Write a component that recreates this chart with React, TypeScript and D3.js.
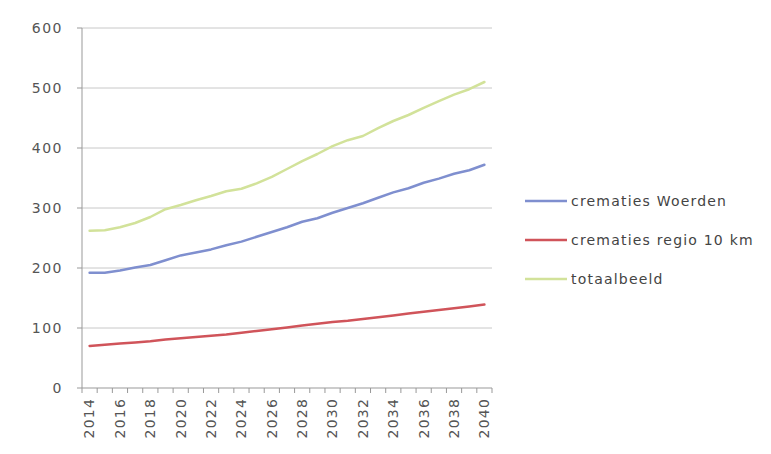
import React from "react";
import * as d3 from "d3";

const years: string[] = d3.range(2014, 2041).map(String);
const crematiesWoerden: number[] = [192, 192, 196, 201, 205, 213, 221, 226, 231, 238, 244, 252, 260, 268, 277, 283, 292, 300, 308, 317, 326, 333, 342, 349, 357, 363, 372];
const crematiesRegio: number[] = [70, 72, 74, 76, 78, 81, 83, 85, 87, 89, 92, 95, 98, 101, 104, 107, 110, 112, 115, 118, 121, 124, 127, 130, 133, 136, 139];
const totaalbeeld: number[] = [262, 263, 268, 275, 285, 298, 305, 313, 320, 328, 332, 341, 352, 365, 378, 390, 403, 413, 420, 433, 445, 455, 467, 478, 489, 498, 510];
const yTicks: number[] = [0, 100, 200, 300, 400, 500, 600];
const seriesNames: string[] = ["crematies Woerden", "crematies regio 10 km", "totaalbeeld"];
const seriesColors: string[] = ["#7f8fcf", "#d0545a", "#d2e29a"];

export default function App() {
  const W = 771, H = 454;
  const left = 82, right = 492, top = 28, bottom = 388;
  const x = d3.scaleBand<string>().domain(years).range([left, right]);
  const y = d3.scaleLinear().domain([0, 600]).range([bottom, top]);
  const line = d3.line<number>()
    .x((_, i) => (x(years[i]) as number) + x.bandwidth() / 2)
    .y((d) => y(d));
  const series = [crematiesWoerden, crematiesRegio, totaalbeeld];
  const font = "'DejaVu Sans', sans-serif";
  const boundaries = years.map((yr) => x(yr) as number).concat([right]);

  return (
    <svg width={W} height={H} style={{ position: "absolute", left: 0, top: 0, background: "#fff" }}>
      <rect width={W} height={H} fill="#fff" />
      {yTicks.filter((t) => t > 0).map((t) => (
        <line key={"g" + t} x1={left} x2={right} y1={y(t)} y2={y(t)} stroke="#c8c8c8" strokeWidth={1} />
      ))}
      {yTicks.map((t) => (
        <g key={"y" + t}>
          <line x1={left - 5} x2={left} y1={y(t)} y2={y(t)} stroke="#999" />
          <text x={63} y={y(t)} dy="0.35em" textAnchor="end" fontSize={14} letterSpacing={1.5} fill="#555" fontFamily={font}>{t}</text>
        </g>
      ))}
      <line x1={left} x2={left} y1={top} y2={bottom} stroke="#999" />
      <line x1={left} x2={right} y1={bottom} y2={bottom} stroke="#999" />
      {boundaries.map((bx, i) => (
        <line key={"xt" + i} x1={bx} x2={bx} y1={bottom} y2={bottom + 5} stroke="#999" />
      ))}
      {years.map((yr, i) => i % 2 === 0 ? (
        <text key={"xl" + yr}
          transform={`translate(${(x(yr) as number) + x.bandwidth() / 2},${bottom + 10}) rotate(-90)`}
          dy="0.35em" textAnchor="end" fontSize={14} letterSpacing={1.2} fill="#555" fontFamily={font}>{yr}</text>
      ) : null)}
      {series.map((s, i) => (
        <path key={"s" + i} d={line(s) as string} fill="none" stroke={seriesColors[i]} strokeWidth={2.5} strokeLinejoin="round" strokeLinecap="round" />
      ))}
      {seriesNames.map((n, i) => (
        <g key={"lg" + i} transform={`translate(0,${201 + i * 39})`}>
          <line x1={525} x2={567} y1={0} y2={0} stroke={seriesColors[i]} strokeWidth={2.5} />
          <text x={571} y={0} dy="0.35em" fontSize={14} letterSpacing={1.2} fill="#444" fontFamily={font}>{n}</text>
        </g>
      ))}
    </svg>
  );
}
